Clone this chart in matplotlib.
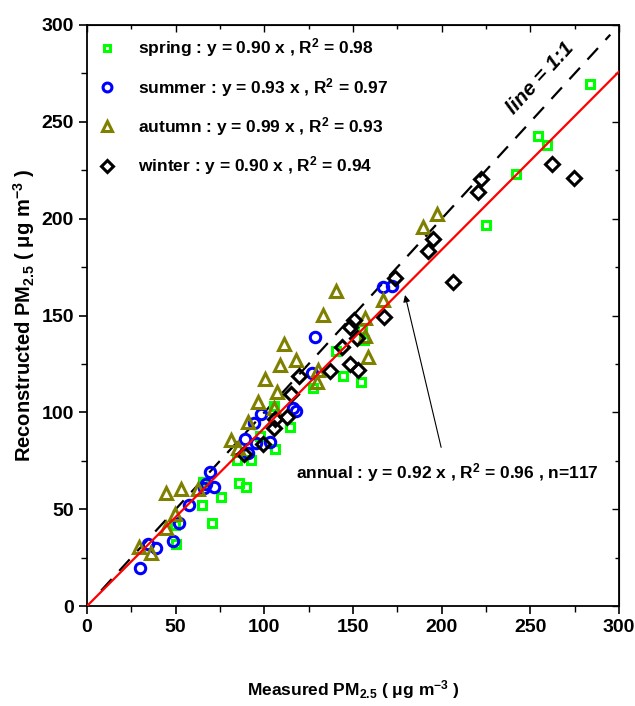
import matplotlib
matplotlib.use("Agg")
import matplotlib.pyplot as plt
from matplotlib.ticker import MultipleLocator

plt.rcParams["font.family"] = ["Liberation Sans Narrow", "Liberation Sans", "DejaVu Sans"]
plt.rcParams["font.weight"] = "bold"
plt.rcParams["mathtext.default"] = "regular"

# ---------------------------------------------------------------------------
# Data
# ---------------------------------------------------------------------------

spring_x = [283.7, 254.5, 259.2, 242.1, 225.0, 156.4, 155.0, 140.4, 144.2, 154.3,
            127.6, 114.3, 105.6, 106.0, 97.6, 92.3, 84.4, 85.8, 89.4, 75.6,
            64.7, 65.2, 70.3, 50.3, 49.8]
spring_y = [269.5, 242.6, 237.9, 222.9, 196.7, 137.3, 143.0, 131.8, 118.8, 115.5,
            112.4, 92.6, 103.5, 80.9, 87.6, 75.4, 75.4, 63.3, 61.3, 56.2,
            52.2, 63.8, 42.8, 32.2, 41.8]

summer_x = [29.9, 34.6, 38.9, 48.7, 52.0, 57.5, 66.2, 67.1, 69.5, 71.8,
            89.2, 91.0, 94.0, 95.2, 98.3, 103.2, 116.3, 117.6, 126.9, 128.4,
            166.7, 171.8]
summer_y = [19.5, 32.0, 29.8, 33.6, 42.7, 52.3, 60.8, 63.0, 69.0, 61.6,
            86.2, 78.8, 94.6, 84.0, 99.3, 84.6, 102.5, 100.7, 120.1, 138.7,
            164.5, 165.2]

autumn_x = [29.5, 36.0, 44.6, 49.4, 44.6, 52.9, 62.3, 81.3, 85.3, 91.0,
            96.5, 100.4, 105.3, 107.0, 108.7, 111.0, 117.9, 129.5, 130.4, 133.3,
            140.6, 156.5, 156.8, 158.6, 166.7, 189.3, 197.4]
autumn_y = [30.6, 27.2, 40.1, 47.5, 58.3, 60.5, 60.5, 85.7, 81.4, 94.8,
            105.5, 117.3, 102.4, 110.6, 124.2, 135.4, 127.0, 115.5, 121.9, 150.5,
            162.9, 148.5, 139.2, 128.5, 158.0, 195.8, 202.5]

winter_x = [88.5, 99.2, 105.4, 106.0, 112.8, 115.2, 119.7, 136.8, 143.9, 148.3,
            153.0, 148.3, 150.6, 152.2, 167.7, 173.7, 192.5, 194.9, 206.6, 220.3,
            222.2, 262.4, 274.3]
winter_y = [78.5, 83.5, 92.0, 96.5, 97.7, 109.7, 118.8, 121.2, 133.5, 124.8,
            122.0, 144.0, 147.5, 138.5, 149.4, 169.2, 183.5, 189.3, 167.4, 213.9,
            220.3, 228.1, 220.8]

season_labels = [
    "spring : y = 0.90 x , R$^2$ = 0.98",
    "summer : y = 0.93 x , R$^2$ = 0.97",
    "autumn : y = 0.99 x , R$^2$ = 0.93",
    "winter : y = 0.90 x , R$^2$ = 0.94",
]

annual_slope = 0.92
one_to_one = [8, 295]
fit_range = [0, 300]
annual_label = "annual : y = 0.92 x , R$^2$ = 0.96 , n=117"

# ---------------------------------------------------------------------------
# Plot
# ---------------------------------------------------------------------------

fig = plt.figure(figsize=(6.35, 7.06), dpi=100)
ax = fig.add_axes([0.137, 0.1416, 0.838, 0.823])

ax.plot(one_to_one, one_to_one, color="black", lw=1.6, dashes=(7, 5), zorder=2)
ax.plot(fit_range, [annual_slope * v for v in fit_range], color="red", lw=1.6, zorder=4)

ax.plot(spring_x, spring_y, "s", ms=5.5, mfc="none", mec="#00ff00", mew=2.2,
        label=season_labels[0], zorder=3)
ax.plot(summer_x, summer_y, "o", ms=7.5, mfc="none", mec="#0000ff", mew=2.2,
        label=season_labels[1], zorder=3)
ax.plot(autumn_x, autumn_y, "^", ms=8, mfc="none", mec="#808000", mew=2.2,
        label=season_labels[2], zorder=3)
ax.plot(winter_x, winter_y, "D", ms=7, mfc="none", mec="black", mew=2.2,
        label=season_labels[3], zorder=3)

leg = ax.legend(loc="upper left", bbox_to_anchor=(0.0, 1.0), frameon=False,
                fontsize=12.5, handlelength=1.0, handletextpad=1.3,
                labelspacing=0.95, borderaxespad=0.35, borderpad=0.3,
                markerscale=0.85)

ax.text(255.5, 272.6, "line = 1:1", rotation=47.5, ha="center", va="center",
        fontsize=15, style="italic", fontweight="bold")

ax.annotate(annual_label, xy=(179.3, 160.6), xytext=(203, 69),
            ha="center", va="center", fontsize=12.5,
            arrowprops=dict(arrowstyle="-|>", color="black", lw=0.8,
                            shrinkA=8, shrinkB=0, mutation_scale=10))

ax.set_xlim(0, 300)
ax.set_ylim(0, 300)
ax.xaxis.set_major_locator(MultipleLocator(50))
ax.xaxis.set_minor_locator(MultipleLocator(25))
ax.yaxis.set_major_locator(MultipleLocator(50))
ax.yaxis.set_minor_locator(MultipleLocator(25))
ax.tick_params(which="major", direction="out", length=6, width=1.2, labelsize=14)
ax.tick_params(which="minor", direction="out", length=4, width=1.0)
for lab in ax.get_xticklabels() + ax.get_yticklabels():
    lab.set_fontweight("bold")

for side in ("top", "right"):
    sec = ax.secondary_xaxis("top") if side == "top" else ax.secondary_yaxis("right")
    axis = sec.xaxis if side == "top" else sec.yaxis
    axis.set_major_locator(MultipleLocator(50))
    axis.set_minor_locator(MultipleLocator(25))
    sec.tick_params(which="major", direction="in", length=5, width=1.0,
                    labelleft=False, labelright=False, labeltop=False, labelbottom=False)
    sec.tick_params(which="minor", direction="in", length=3, width=1.0)

for sp in ax.spines.values():
    sp.set_linewidth(1.3)

ax.set_xlabel("Measured PM$_{2.5}$ ( $\\mu$g m$^{-3}$ )", fontsize=12.5,
              fontweight="bold", labelpad=30)
ax.set_ylabel("Reconstructed PM$_{2.5}$ ( $\\mu$g m$^{-3}$ )", fontsize=14.5,
              fontweight="bold", labelpad=3)

fig.savefig("out.png", dpi=100)
